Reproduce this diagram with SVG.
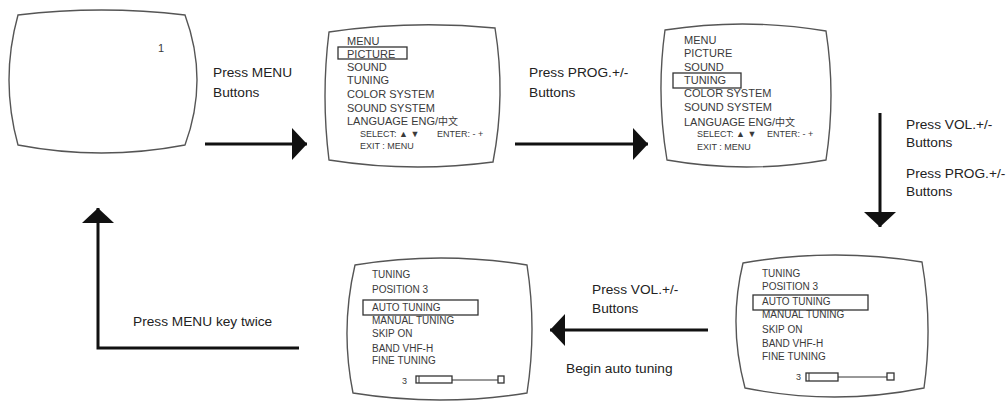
<svg xmlns="http://www.w3.org/2000/svg" width="1007" height="409" viewBox="0 0 1007 409">
<style>
.tv{fill:#fff;stroke:#555;stroke-width:1.4}
.st{font-family:"Liberation Sans",Arial,sans-serif;font-size:11px;fill:#3a3a3a}
.st2{font-family:"Liberation Sans",Arial,sans-serif;font-size:10px;fill:#3a3a3a}
.sm{font-family:"Liberation Sans","DejaVu Sans","Noto Sans CJK SC",sans-serif;font-size:9px;fill:#3a3a3a}
.box{fill:none;stroke:#333;stroke-width:1.3}
.lbl{font-family:"Liberation Sans",Arial,sans-serif;font-size:13.7px;fill:#222}
.arr{stroke:#111;stroke-width:3;fill:none}
</style>
<defs>
<marker id="ah" markerUnits="userSpaceOnUse" markerWidth="16" markerHeight="34" refX="15" refY="16" orient="auto">
<path d="M0,0 L15,16 L0,32 Z" fill="#111"/>
</marker>
</defs>
<rect width="1007" height="409" fill="#fff"/>

<g id="tv1">
<path class="tv" d="M18,15 Q101.5,5 185,15 Q209,80 185,145 Q101.5,161 18,145 Q0,80 18,15 Z"/>
<text class="st" x="158" y="52" font-size="12">1</text>
</g>

<g id="tv2">
<path class="tv" d="M329,32 Q412,20 495,28 Q506,95 493,162 Q411,173 329,160 Q321,96 329,32 Z"/>
<text class="st" x="347" y="45">MENU</text>
<text class="st" x="347" y="58">PICTURE</text>
<rect class="box" x="338" y="47" width="69" height="12"/>
<text class="st" x="347" y="71">SOUND</text>
<text class="st" x="347" y="84">TUNING</text>
<text class="st" x="347" y="98">COLOR SYSTEM</text>
<text class="st" x="347" y="112">SOUND SYSTEM</text>
<text class="st" x="347" y="125">LANGUAGE ENG/<tspan font-family="'Noto Sans CJK SC',sans-serif" font-size="10">中文</tspan></text>
<text class="sm" x="360" y="137">SELECT: ▲ ▼</text>
<text class="sm" x="437" y="137">ENTER: - +</text>
<text class="sm" x="360" y="149">EXIT : MENU</text>
</g>

<g id="tv3">
<path class="tv" d="M665,30 Q745.5,17.5 826,31 Q836,95 826,160 Q746.5,174 667,160 Q656,95 665,30 Z"/>
<text class="st" x="684" y="44">MENU</text>
<text class="st" x="684" y="57">PICTURE</text>
<text class="st" x="684" y="71">SOUND</text>
<text class="st" x="684" y="84">TUNING</text>
<rect class="box" x="673" y="73" width="68" height="15"/>
<text class="st" x="684" y="97">COLOR SYSTEM</text>
<text class="st" x="684" y="111">SOUND SYSTEM</text>
<text class="st" x="684" y="126">LANGUAGE ENG/<tspan font-family="'Noto Sans CJK SC',sans-serif" font-size="10">中文</tspan></text>
<text class="sm" x="697" y="137">SELECT: ▲ ▼</text>
<text class="sm" x="767" y="137">ENTER: - +</text>
<text class="sm" x="697" y="150">EXIT : MENU</text>
</g>

<g id="tv4">
<path class="tv" d="M743,263 Q832.5,247.5 922,262 Q933,325 924,388 Q834.5,406 745,388 Q728,325 743,263 Z"/>
<text class="st2" x="762" y="277">TUNING</text>
<text class="st2" x="762" y="290">POSITION 3</text>
<text class="st2" x="762" y="305">AUTO TUNING</text>
<rect class="box" x="753" y="295" width="115" height="15"/>
<text class="st2" x="762" y="318">MANUAL TUNING</text>
<text class="st2" x="762" y="333">SKIP ON</text>
<text class="st2" x="762" y="347">BAND VHF-H</text>
<text class="st2" x="762" y="360">FINE TUNING</text>
<text class="sm" x="796" y="380" font-size="7">3</text>
<rect class="box" x="806" y="373" width="32" height="8" stroke-width="1"/>
<line x1="809" y1="373" x2="809" y2="381" stroke="#333" stroke-width="1"/>
<line x1="838" y1="377" x2="887" y2="377" stroke="#333" stroke-width="1"/>
<rect class="box" x="887" y="373" width="7" height="7" stroke-width="1"/>
</g>

<g id="tv5">
<path class="tv" d="M355,265 Q441,251 527,265 Q537,329 527,393 Q440,407 353,393 Q340,329 355,265 Z"/>
<text class="st2" x="372" y="278">TUNING</text>
<text class="st2" x="372" y="293">POSITION 3</text>
<text class="st2" x="372" y="311">AUTO TUNING</text>
<rect class="box" x="363" y="300" width="115" height="15"/>
<text class="st2" x="372" y="324">MANUAL TUNING</text>
<text class="st2" x="372" y="337">SKIP ON</text>
<text class="st2" x="372" y="352">BAND VHF-H</text>
<text class="st2" x="372" y="364">FINE TUNING</text>
<text class="sm" x="402" y="384" font-size="7">3</text>
<rect class="box" x="416" y="376" width="36" height="7" stroke-width="1"/>
<line x1="419" y1="376" x2="419" y2="383" stroke="#333" stroke-width="1"/>
<line x1="452" y1="380" x2="498" y2="380" stroke="#333" stroke-width="1"/>
<rect class="box" x="498" y="376" width="6" height="7" stroke-width="1"/>
</g>

<g id="connectors">
<line class="arr" x1="205" y1="144" x2="307" y2="144" marker-end="url(#ah)"/>
<line class="arr" x1="515" y1="144" x2="648" y2="144" marker-end="url(#ah)"/>
<line class="arr" x1="880" y1="113" x2="880" y2="227" marker-end="url(#ah)"/>
<line class="arr" x1="708" y1="330" x2="550" y2="330" marker-end="url(#ah)"/>
<polyline class="arr" points="299,348 98,348 98,208" marker-end="url(#ah)"/>
</g>

<g id="labels">
<text class="lbl" x="213" y="77">Press MENU</text>
<text class="lbl" x="213" y="97">Buttons</text>
<text class="lbl" x="529" y="77">Press PROG.+/-</text>
<text class="lbl" x="529" y="97">Buttons</text>
<text class="lbl" x="906" y="129">Press VOL.+/-</text>
<text class="lbl" x="906" y="147">Buttons</text>
<text class="lbl" x="906" y="178">Press PROG.+/-</text>
<text class="lbl" x="906" y="196">Buttons</text>
<text class="lbl" x="592" y="294">Press VOL.+/-</text>
<text class="lbl" x="592" y="313">Buttons</text>
<text class="lbl" x="566" y="373">Begin auto tuning</text>
<text class="lbl" x="133" y="326">Press MENU key twice</text>
</g>
</svg>
